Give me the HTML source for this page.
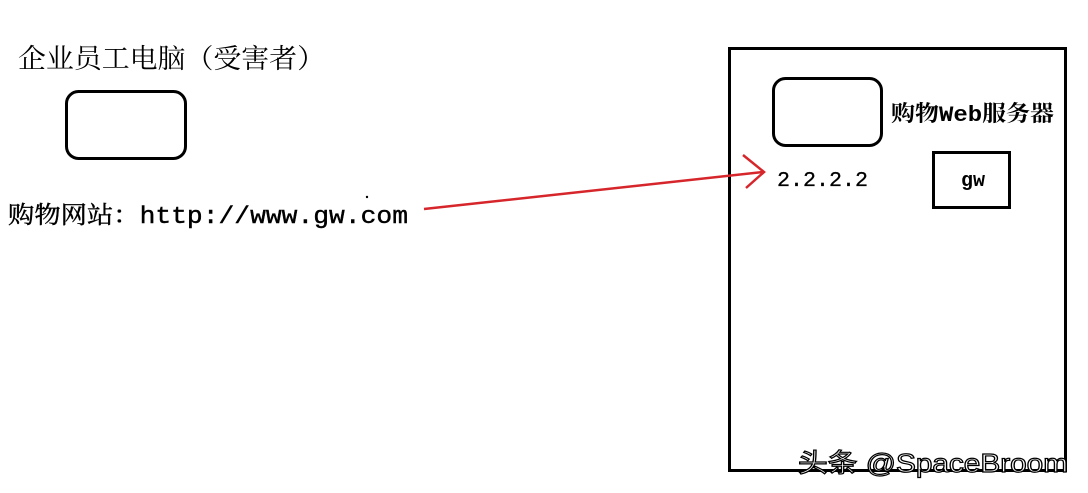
<!DOCTYPE html>
<html><head><meta charset="utf-8"><style>
html,body{margin:0;padding:0;background:#fff;}
svg{display:block;}
.t{font-family:"Liberation Mono","Noto Serif CJK SC",serif;fill:#000;}
</style></head><body>
<svg width="1088" height="493" viewBox="0 0 1088 493">
<rect x="0" y="0" width="1088" height="493" fill="#fff"/>
<text class="t" x="18" y="68" font-size="27" textLength="307" lengthAdjust="spacingAndGlyphs">企业员工电脑（受害者）</text>
<rect x="66.5" y="91.5" width="119" height="67" rx="12" fill="none" stroke="#000" stroke-width="3"/>
<text class="t" x="8" y="223" font-size="24" textLength="400" lengthAdjust="spacingAndGlyphs" stroke="#000" stroke-width="0.4">购物网站：http://www.gw.com</text>
<circle cx="367" cy="197" r="1.2" fill="#000"/>
<rect x="729.5" y="48.5" width="336" height="422" fill="none" stroke="#000" stroke-width="3"/>
<rect x="773.5" y="78.5" width="108" height="67" rx="12" fill="none" stroke="#000" stroke-width="3"/>
<text class="t" x="891" y="121" font-size="22" textLength="163" lengthAdjust="spacingAndGlyphs" font-weight="bold">购物Web服务器</text>
<rect x="933.5" y="152.5" width="76" height="55" fill="none" stroke="#000" stroke-width="3"/>
<text class="t" x="961" y="186" font-size="20" font-weight="bold">gw</text>
<text class="t" x="777" y="186" font-size="21" textLength="91" lengthAdjust="spacingAndGlyphs" stroke="#000" stroke-width="0.3">2.2.2.2</text>
<line x1="424" y1="209" x2="763" y2="172" stroke="#d6262b" stroke-width="2.5"/>
<polyline points="743,155 764,172 746,188" fill="none" stroke="#d6262b" stroke-width="2.5"/>
<text x="798" y="472" font-size="26" style="font-family:'Liberation Sans','Noto Sans CJK SC',sans-serif" fill="#fff" stroke="#000" stroke-width="1.2" textLength="270" lengthAdjust="spacingAndGlyphs">头条 @SpaceBroom</text>
</svg>
</body></html>
